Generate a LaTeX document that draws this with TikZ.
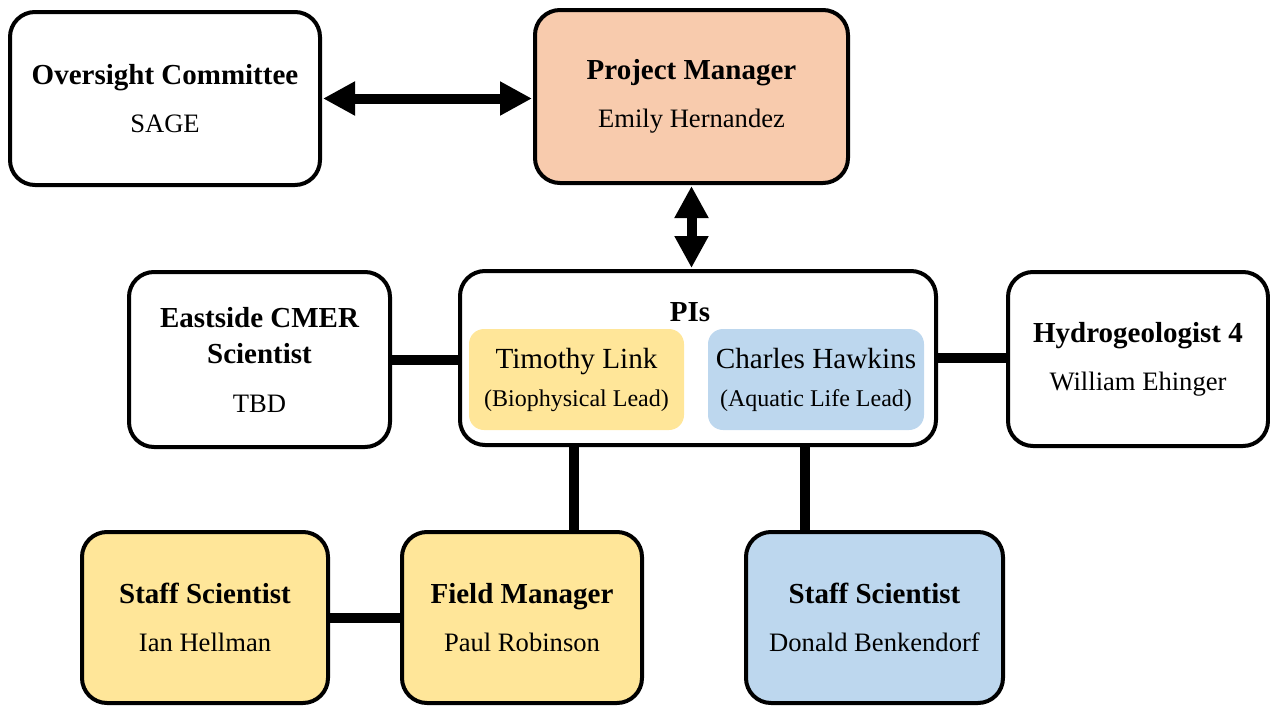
\documentclass[tikz,border=0pt]{standalone}
\usepackage{fontspec}
\setmainfont{Liberation Serif}
\usetikzlibrary{arrows.meta}
\definecolor{peach}{HTML}{F8CBAD}
\definecolor{yel}{HTML}{FFE699}
\definecolor{blu}{HTML}{BDD7EE}
\newcommand{\ttl}[1]{{\fontsize{14.5}{18}\selectfont\bfseries #1}}
\tikzset{
  box/.style={draw=black, line width=2pt, rounded corners=12.5pt, align=center,
    font=\fontsize{13.3}{18}\selectfont, inner sep=0pt},
  inbox/.style={rounded corners=7.5pt, align=center, inner sep=0pt,
    minimum width=107.5pt, minimum height=50.5pt},
  conn/.style={line width=5pt},
  dbl/.style={line width=5pt, {Triangle[length=16pt,width=16pt]}-{Triangle[length=16pt,width=16pt]}, shorten <=0.5pt, shorten >=0.5pt},
}
\begin{document}
\begin{tikzpicture}[x=0.5pt,y=-0.5pt]
\useasboundingbox (0,0) rectangle (1270,707);
\node[box, minimum width=155pt, minimum height=86.5pt] (ov) at (165,98.5)
  {\ttl{Oversight Committee}\\[6pt]SAGE};
\node[box, fill=peach, minimum width=156.5pt, minimum height=86.5pt] (pm) at (691.5,96.5)
  {\ttl{Project Manager}\\[6pt]Emily Hernandez};
\node[box, minimum width=238pt, minimum height=87pt] (pis) at (698,358) {};
\node[font=\fontsize{14.5}{18}\selectfont\bfseries] (pil) at (690,312) {PIs};
\node[inbox, fill=yel] (tim) at (576.5,379.5)
  {{\fontsize{14.6}{18}\selectfont Timothy Link}\\[7pt]{\fontsize{12}{14}\selectfont (Biophysical Lead)}};
\node[inbox, fill=blu, minimum width=108pt] (cha) at (816,379.5)
  {{\fontsize{14.6}{18}\selectfont Charles Hawkins}\\[7pt]{\fontsize{12}{14}\selectfont (Aquatic Life Lead)}};
\node[box, minimum width=130.5pt, minimum height=87.5pt] (ea) at (259.5,359.5)
  {\ttl{Eastside CMER}\\\ttl{Scientist}\\[6.5pt]TBD};
\node[box, minimum width=130pt, minimum height=87pt] (hy) at (1138,359)
  {\ttl{Hydrogeologist 4}\\[6pt]William Ehinger};
\node[box, fill=yel, minimum width=123pt, minimum height=85.5pt] (ss1) at (205,617.5)
  {\ttl{Staff Scientist}\\[6pt]Ian Hellman};
\node[box, fill=yel, minimum width=120pt, minimum height=85.5pt] (fm) at (522,617.5)
  {\ttl{Field Manager}\\[6pt]Paul Robinson};
\node[box, fill=blu, minimum width=128.5pt, minimum height=85.5pt] (ss2) at (874.5,617.5)
  {\ttl{Staff Scientist}\\[6pt]Donald Benkendorf};
\coordinate (l1) at (574,0);
\coordinate (l2) at (805,0);
\draw[dbl] (ov.east) -- (ov.east -| pm.west);
\draw[dbl] (pm.south) -- (pm.south |- pis.north);
\draw[conn] (ea.east) -- (ea.east -| pis.west);
\draw[conn] (pis.east) -- (pis.east -| hy.west);
\draw[conn] (pis.south -| l1) -- (fm.north -| l1);
\draw[conn] (pis.south -| l2) -- (ss2.north -| l2);
\draw[conn] (ss1.east) -- (ss1.east -| fm.west);
\end{tikzpicture}
\end{document}
